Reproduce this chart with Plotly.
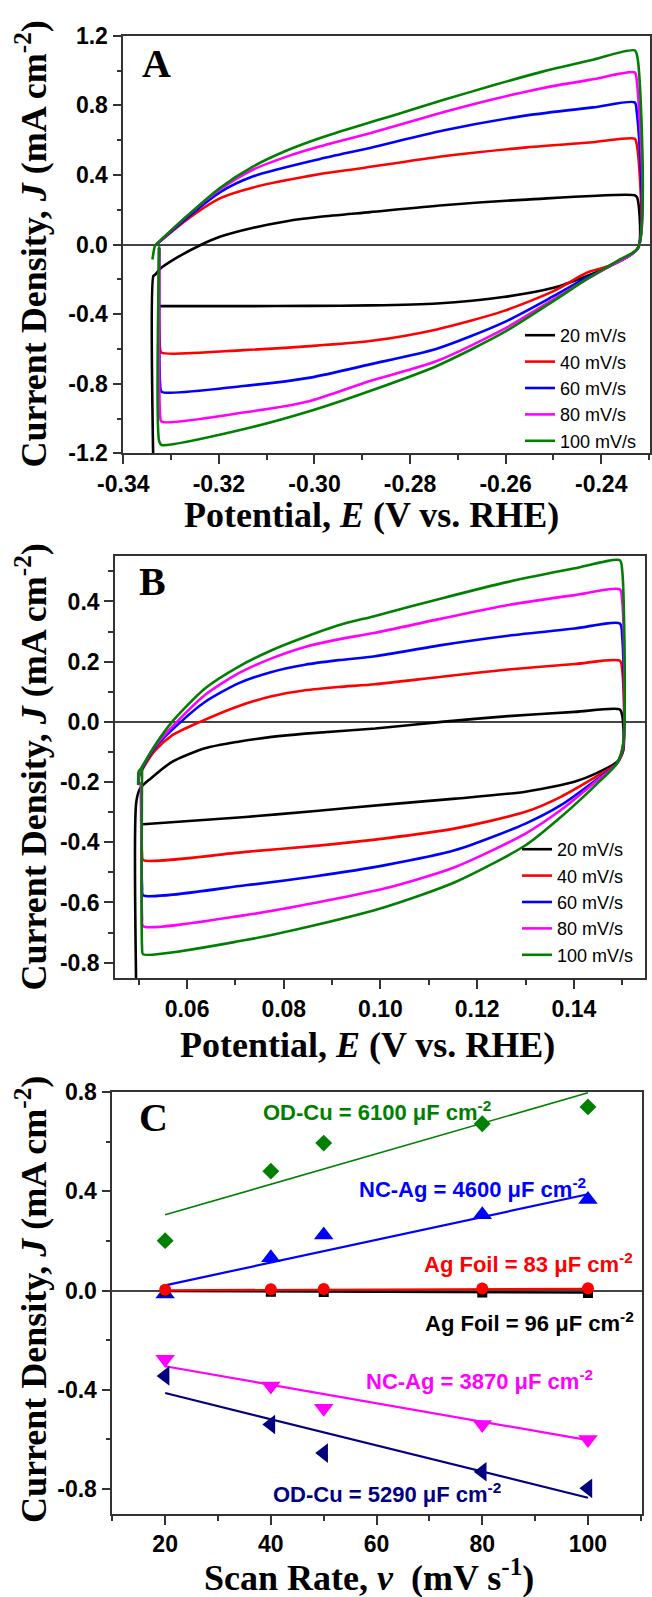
import plotly.graph_objects as go

# ---------------- Panel A data (E in V vs RHE, J in mA cm-2) ----------------
A_E_20 = [-0.3337, -0.3337, -0.3334, -0.3323, -0.3288, -0.3236, -0.3198, -0.3128, -0.3058, -0.2988, -0.2884, -0.2731, -0.2556, -0.2330, -0.2325, -0.2323, -0.2382, -0.2431, -0.2500, -0.2605, -0.2744, -0.2884, -0.3009, -0.3149, -0.3323]
A_J_20 = [-1.30, -0.18, -0.175, -0.14, -0.076, 0.0, 0.044, 0.096, 0.134, 0.159, 0.186, 0.226, 0.258, 0.283, 0.27, -0.02, -0.124, -0.182, -0.249, -0.302, -0.339, -0.350, -0.353, -0.354, -0.354]

A_E_40 = [-0.3331, -0.3267, -0.3198, -0.3128, -0.2988, -0.2905, -0.2731, -0.2556, -0.2417, -0.2330, -0.2326, -0.2323, -0.2382, -0.2431, -0.2500, -0.2605, -0.2744, -0.2884, -0.3009, -0.3149, -0.3320, -0.3323, -0.3325]
A_J_40 = [0.0, 0.143, 0.265, 0.328, 0.405, 0.437, 0.507, 0.558, 0.588, 0.608, 0.58, -0.02, -0.12, -0.163, -0.268, -0.383, -0.488, -0.555, -0.584, -0.607, -0.622, -0.60, -0.02]

A_E_60 = [-0.3331, -0.3267, -0.3198, -0.3128, -0.2988, -0.2884, -0.2731, -0.2556, -0.2417, -0.2330, -0.2326, -0.2323, -0.2382, -0.2431, -0.2500, -0.2605, -0.2744, -0.2884, -0.3009, -0.3149, -0.3320, -0.3323, -0.3325]
A_J_60 = [0.0, 0.153, 0.300, 0.392, 0.492, 0.555, 0.655, 0.742, 0.788, 0.817, 0.77, -0.02, -0.124, -0.191, -0.297, -0.449, -0.599, -0.689, -0.765, -0.813, -0.846, -0.80, -0.02]

A_E_80 = [-0.3331, -0.3267, -0.3198, -0.3128, -0.3058, -0.2988, -0.2884, -0.2731, -0.2626, -0.2521, -0.2417, -0.2330, -0.2326, -0.2323, -0.2382, -0.2431, -0.2500, -0.2605, -0.2744, -0.2884, -0.3009, -0.3149, -0.3320, -0.3323, -0.3325]
A_J_80 = [0.0, 0.163, 0.316, 0.431, 0.505, 0.564, 0.640, 0.760, 0.835, 0.900, 0.950, 0.989, 0.95, -0.02, -0.124, -0.201, -0.316, -0.488, -0.670, -0.785, -0.899, -0.966, -1.018, -0.98, -0.02]

A_E_100 = [-0.3339, -0.3334, -0.3331, -0.3267, -0.3198, -0.3128, -0.3058, -0.2988, -0.2905, -0.2835, -0.2731, -0.2626, -0.2521, -0.2417, -0.2330, -0.2323, -0.2323, -0.2361, -0.2431, -0.2500, -0.2605, -0.2744, -0.2884, -0.3009, -0.3149, -0.3320, -0.3325, -0.3325]
A_J_100 = [-0.086, -0.01, 0.0, 0.163, 0.325, 0.449, 0.540, 0.612, 0.684, 0.742, 0.830, 0.915, 0.995, 1.062, 1.115, 1.052, -0.02, -0.086, -0.201, -0.325, -0.507, -0.698, -0.842, -0.957, -1.062, -1.152, -1.13, -0.01]

# ---------------- Panel B data ----------------
B_E_20 = [0.0495, 0.0495, 0.0503, 0.0525, 0.0569, 0.0637, 0.0706, 0.0775, 0.0844, 0.0989, 0.1126, 0.1264, 0.1402, 0.1495, 0.1500, 0.1502, 0.1489, 0.1445, 0.1401, 0.1300, 0.1155, 0.1010, 0.0866, 0.0721, 0.0509]
B_J_20 = [-0.90, -0.266, -0.221, -0.188, -0.133, -0.088, -0.066, -0.050, -0.039, -0.022, 0.0, 0.019, 0.033, 0.041, 0.02, -0.095, -0.133, -0.172, -0.199, -0.232, -0.255, -0.275, -0.296, -0.316, -0.340]

B_E_40 = [0.0499, 0.0501, 0.0507, 0.0534, 0.0569, 0.0627, 0.0706, 0.0775, 0.0844, 0.0913, 0.0989, 0.1126, 0.1264, 0.1402, 0.1495, 0.1500, 0.1502, 0.1489, 0.1445, 0.1373, 0.1300, 0.1155, 0.1010, 0.0866, 0.0721, 0.0509, 0.0507, 0.0505]
B_J_40 = [-0.21, -0.18, -0.16, -0.095, -0.045, 0.0, 0.052, 0.085, 0.105, 0.116, 0.125, 0.150, 0.174, 0.192, 0.203, 0.17, -0.09, -0.138, -0.183, -0.249, -0.299, -0.354, -0.387, -0.412, -0.432, -0.459, -0.44, -0.20]

B_E_60 = [0.0499, 0.0501, 0.0507, 0.0534, 0.0587, 0.0637, 0.0706, 0.0775, 0.0844, 0.0913, 0.0989, 0.1126, 0.1264, 0.1402, 0.1495, 0.1500, 0.1502, 0.1489, 0.1445, 0.1373, 0.1300, 0.1155, 0.1010, 0.0866, 0.0721, 0.0509, 0.0507, 0.0505]
B_J_60 = [-0.205, -0.175, -0.155, -0.085, 0.0, 0.066, 0.128, 0.166, 0.190, 0.205, 0.218, 0.255, 0.286, 0.310, 0.327, 0.28, -0.08, -0.138, -0.194, -0.277, -0.338, -0.426, -0.476, -0.513, -0.543, -0.576, -0.55, -0.20]

B_E_80 = [0.0499, 0.0501, 0.0507, 0.0534, 0.0579, 0.0637, 0.0706, 0.0775, 0.0844, 0.0913, 0.0989, 0.1126, 0.1264, 0.1402, 0.1495, 0.1500, 0.1502, 0.1489, 0.1445, 0.1373, 0.1300, 0.1155, 0.1010, 0.0866, 0.0721, 0.0509, 0.0507, 0.0505]
B_J_80 = [-0.20, -0.17, -0.15, -0.08, 0.0, 0.089, 0.161, 0.211, 0.249, 0.274, 0.296, 0.343, 0.388, 0.421, 0.440, 0.40, -0.075, -0.138, -0.199, -0.293, -0.371, -0.482, -0.553, -0.601, -0.642, -0.679, -0.65, -0.20]

B_E_100 = [0.0499, 0.0500, 0.0505, 0.0534, 0.0569, 0.0637, 0.0706, 0.0775, 0.0844, 0.0913, 0.0989, 0.1126, 0.1264, 0.1402, 0.1495, 0.1500, 0.1502, 0.1489, 0.1445, 0.1373, 0.1300, 0.1155, 0.1010, 0.0866, 0.0721, 0.0509, 0.0507, 0.0507]
B_J_100 = [-0.21, -0.165, -0.155, -0.077, 0.0, 0.111, 0.183, 0.238, 0.282, 0.321, 0.352, 0.410, 0.465, 0.510, 0.537, 0.50, -0.072, -0.138, -0.210, -0.316, -0.410, -0.532, -0.615, -0.675, -0.725, -0.772, -0.75, -0.15]

CV_LABELS = ["20 mV/s", "40 mV/s", "60 mV/s", "80 mV/s", "100 mV/s"]
CV_COLORS = ["#000000", "#FF0000", "#0000FF", "#FF00FF", "#008000"]

# ---------------- Panel C data ----------------
C_rate = [20, 40, 50, 80, 100]
odcu_anodic = [0.201, 0.481, 0.594, 0.672, 0.740]
ncag_anodic = [-0.014, 0.132, 0.224, 0.305, 0.367]
agfoil_anodic = [0.003, 0.005, 0.006, 0.008, 0.009]
agfoil_cathodic = [-0.003, -0.005, -0.006, -0.008, -0.010]
ncag_cathodic = [-0.277, -0.385, -0.474, -0.540, -0.600]
odcu_cathodic = [-0.344, -0.540, -0.655, -0.730, -0.797]

fit_rate = [20, 100]
odcu_anodic_fit = [0.305, 0.797]
ncag_anodic_fit = [0.021, 0.388]
agfoil_anodic_fit = [0.001, 0.007]
agfoil_cathodic_fit = [-0.002, -0.009]
ncag_cathodic_fit = [-0.305, -0.603]
odcu_cathodic_fit = [-0.413, -0.835]

C_labels = ["OD-Cu = 6100 μF cm<sup>-2</sup>", "NC-Ag = 4600 μF cm<sup>-2</sup>",
            "Ag Foil = 83 μF cm<sup>-2</sup>", "Ag Foil = 96 μF cm<sup>-2</sup>",
            "NC-Ag = 3870 μF cm<sup>-2</sup>", "OD-Cu = 5290 μF cm<sup>-2</sup>"]

A_xticks = [-0.34, -0.32, -0.30, -0.28, -0.26, -0.24]
A_yticks = [-1.2, -0.8, -0.4, 0.0, 0.4, 0.8, 1.2]
B_xticks = [0.06, 0.08, 0.10, 0.12, 0.14]
B_yticks = [-0.8, -0.6, -0.4, -0.2, 0.0, 0.2, 0.4]
C_xticks = [20, 40, 60, 80, 100]
C_yticks = [-0.8, -0.4, 0.0, 0.4, 0.8]

# ---------------- Figure ----------------
W, H = 652, 1597
SERIF = "Liberation Serif"
SANS = "Liberation Sans"


def px(xp):
    return xp / W


def py(yp):
    return 1 - yp / H


fig = go.Figure()

A_sets = [(A_E_20, A_J_20), (A_E_40, A_J_40), (A_E_60, A_J_60), (A_E_80, A_J_80), (A_E_100, A_J_100)]
B_sets = [(B_E_20, B_J_20), (B_E_40, B_J_40), (B_E_60, B_J_60), (B_E_80, B_J_80), (B_E_100, B_J_100)]

for (e, j), lab, col in zip(A_sets, CV_LABELS, CV_COLORS):
    fig.add_trace(go.Scatter(x=e, y=j, mode="lines", name=lab,
                             line=dict(color=col, width=2.6, shape="spline", smoothing=0.7),
                             xaxis="x", yaxis="y", legend="legend"))
for (e, j), lab, col in zip(B_sets, CV_LABELS, CV_COLORS):
    fig.add_trace(go.Scatter(x=e, y=j, mode="lines", name=lab,
                             line=dict(color=col, width=2.6, shape="spline", smoothing=0.7),
                             xaxis="x2", yaxis="y2", legend="legend2"))

C_series = [
    (odcu_anodic, odcu_anodic_fit, "#008000", "diamond", 13, 1.6),
    (ncag_anodic, ncag_anodic_fit, "#0000FF", "triangle-up", 17, 2.2),
    (agfoil_cathodic, agfoil_cathodic_fit, "#000000", "square", 10, 2.2),
    (agfoil_anodic, agfoil_anodic_fit, "#FF0000", "circle", 12, 2.2),
    (ncag_cathodic, ncag_cathodic_fit, "#FF00FF", "triangle-down", 17, 2.2),
    (odcu_cathodic, odcu_cathodic_fit, "#000080", "triangle-left", 17, 2.2),
]
for pts, fit, col, sym, size, lw in C_series:
    fig.add_trace(go.Scatter(x=fit_rate, y=fit, mode="lines", line=dict(color=col, width=lw),
                             xaxis="x3", yaxis="y3", showlegend=False))
for pts, fit, col, sym, size, lw in C_series:
    fig.add_trace(go.Scatter(x=C_rate, y=pts, mode="markers",
                             marker=dict(color=col, symbol=sym, size=size, line=dict(width=0)),
                             xaxis="x3", yaxis="y3", showlegend=False))

TICKFONT = dict(family=SANS, size=23, color="black")


def axis(domain, rng, tickvals, fmt, minor_tick0, minor_dtick, anchor, zero=False):
    return dict(
        domain=domain, range=rng, anchor=anchor, automargin=False,
        showline=True, linecolor="#333333", linewidth=1.6, mirror=True,
        ticks="outside", ticklen=9, tickwidth=1.6, tickcolor="#333333",
        tickmode="array", tickvals=tickvals,
        ticktext=["<b>%s</b>" % fmt.format(v) for v in tickvals],
        tickfont=TICKFONT, showgrid=False,
        zeroline=zero, zerolinecolor="#444444", zerolinewidth=1.6,
        minor=dict(ticks="outside", ticklen=5, tickwidth=1.6, tickcolor="#333333",
                   tickmode="linear", tick0=minor_tick0, dtick=minor_dtick, showgrid=False),
    )


A_xdom = [px(123.3), px(650)]
A_ydom = [py(453.3), py(35.7)]
B_xdom = [px(115), px(645)]
B_ydom = [py(978.3), py(556)]
C_xdom = [px(112.3), px(642.4)]
C_ydom = [py(1513.9), py(1092)]

annotations = []
# panel letters
for txt, cx, cy in [("A", 156, 63), ("B", 152, 582), ("C", 153, 1117)]:
    annotations.append(dict(text="<b>%s</b>" % txt, x=px(cx), y=py(cy), xref="paper", yref="paper",
                            xanchor="center", yanchor="middle", showarrow=False,
                            font=dict(family=SERIF, size=40, color="black")))
# y titles
ytitle = "<b>Current Density, <i>J</i> (mA cm<sup>-2</sup>)</b>"
for cy in [244.5, 767.5, 1300]:
    annotations.append(dict(text=ytitle, x=px(31), y=py(cy), xref="paper", yref="paper",
                            xanchor="center", yanchor="middle", textangle=-90, showarrow=False,
                            font=dict(family=SERIF, size=36, color="black")))
# x titles
xt = "<b>Potential, <i>E</i> (V vs. RHE)</b>"
annotations.append(dict(text=xt, x=px(371), y=py(515), xref="paper", yref="paper",
                        xanchor="center", yanchor="middle", showarrow=False,
                        font=dict(family=SERIF, size=36, color="black")))
annotations.append(dict(text=xt, x=px(367), y=py(1045), xref="paper", yref="paper",
                        xanchor="center", yanchor="middle", showarrow=False,
                        font=dict(family=SERIF, size=36, color="black")))
annotations.append(dict(text="<b>Scan Rate, <i>v</i>  (mV s<sup>-1</sup>)</b>", x=px(369), y=py(1575),
                        xref="paper", yref="paper", xanchor="center", yanchor="middle", showarrow=False,
                        font=dict(family=SERIF, size=36, color="black")))
# panel C labels (data coords)
C_label_pos = [(38.3, 0.723, "#008000"), (56.4, 0.415, "#0000FF"), (68.8, 0.111, "#FF0000"),
               (69.0, -0.125, "#000000"), (57.8, -0.360, "#FF00FF"), (40.3, -0.814, "#000080")]
for lab, (lx, ly, col) in zip(C_labels, C_label_pos):
    annotations.append(dict(text="<b>%s</b>" % lab, x=lx, y=ly, xref="x3", yref="y3",
                            xanchor="left", yanchor="middle", showarrow=False, borderpad=0,
                            font=dict(family=SANS, size=22, color=col)))

LEGFONT = dict(family=SANS, size=18, color="black")

fig.update_layout(
    width=W, height=H, margin=dict(l=0, r=0, t=0, b=0, pad=0, autoexpand=False),
    paper_bgcolor="white", plot_bgcolor="white",
    xaxis=axis(A_xdom, [-0.34, -0.2298], A_xticks, "{:.2f}", -0.34, 0.01, "y"),
    yaxis=axis(A_ydom, [-1.2, 1.2], A_yticks, "{:.1f}", -1.2, 0.2, "x", zero=True),
    xaxis2=axis(B_xdom, [0.0451, 0.1547], B_xticks, "{:.2f}", 0.05, 0.01, "y2"),
    yaxis2=axis(B_ydom, [-0.852, 0.551], B_yticks, "{:.1f}", -0.8, 0.1, "x2", zero=True),
    xaxis3=axis(C_xdom, [10, 110.3], C_xticks, "{:d}", 10, 10, "y3"),
    yaxis3=axis(C_ydom, [-0.9, 0.8], C_yticks, "{:.1f}", -0.8, 0.2, "x3", zero=True),
    legend=dict(x=px(520), y=py(317), xanchor="left", yanchor="top", bgcolor="rgba(0,0,0,0)",
                borderwidth=0, font=LEGFONT, tracegroupgap=0),
    legend2=dict(x=px(517), y=py(831), xanchor="left", yanchor="top", bgcolor="rgba(0,0,0,0)",
                 borderwidth=0, font=LEGFONT, tracegroupgap=0),
    annotations=annotations,
    showlegend=True,
)

fig.write_html("out.html")
